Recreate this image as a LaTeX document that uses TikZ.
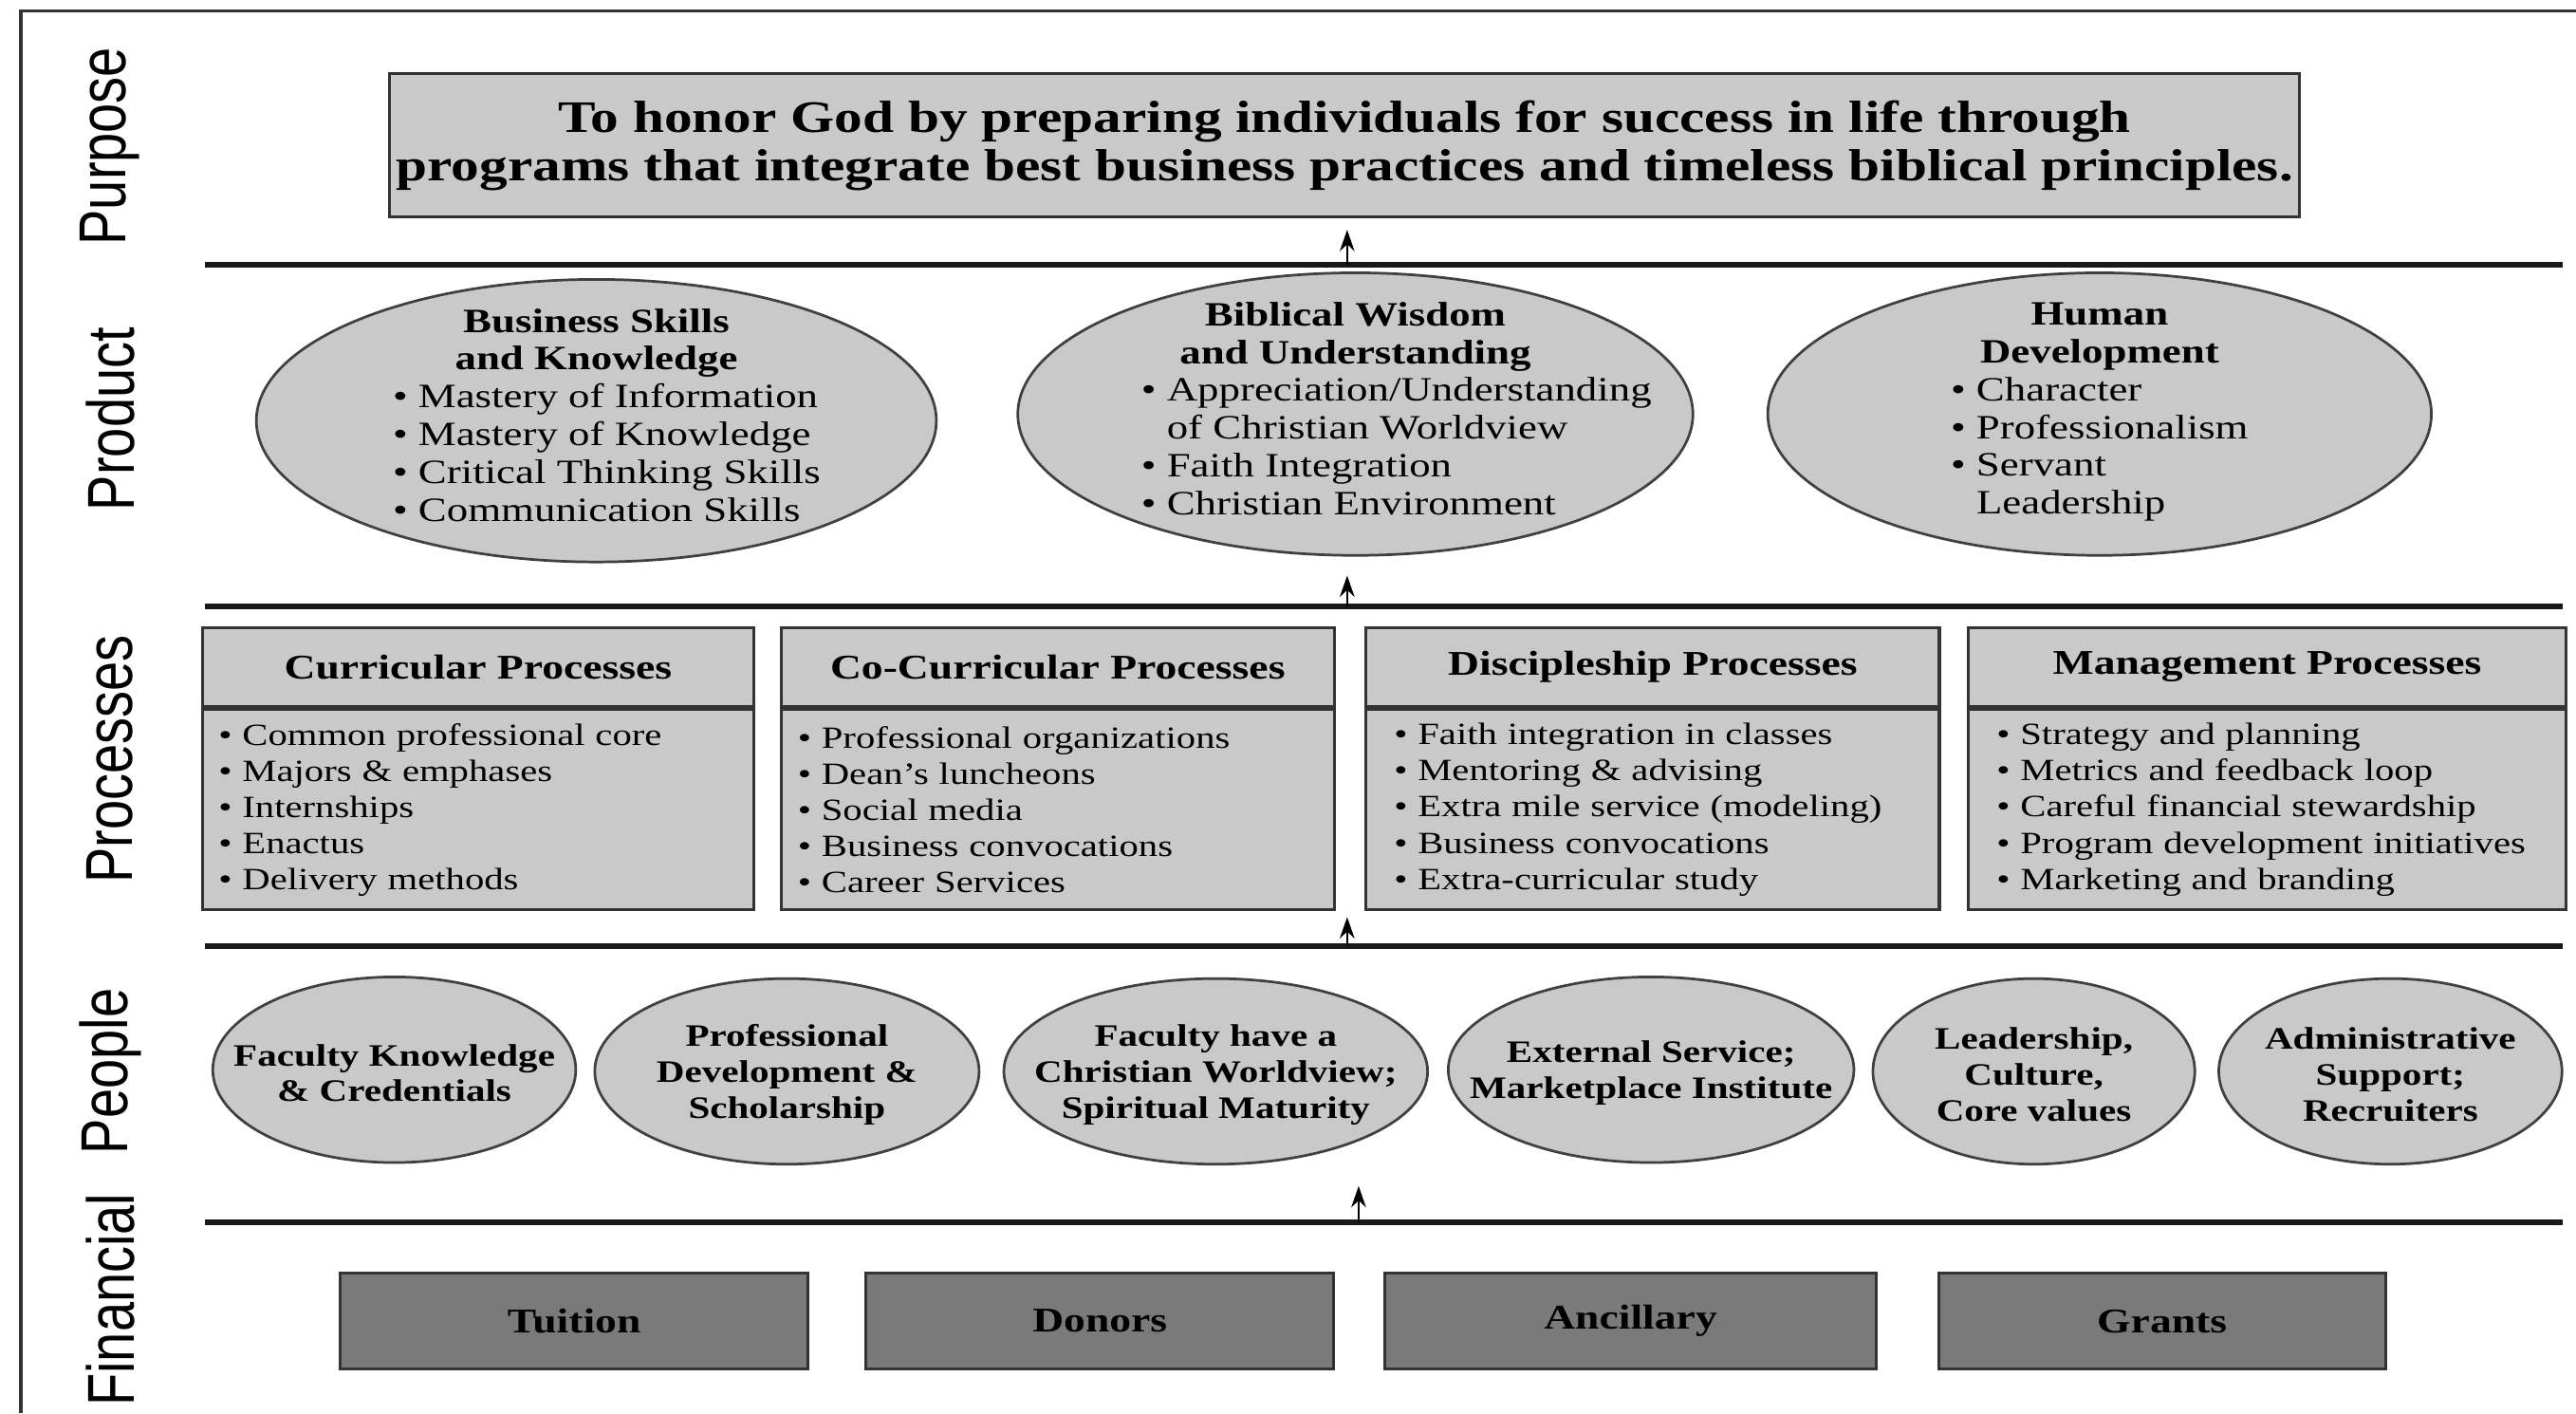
\documentclass[tikz,border=0pt]{standalone}
\usepackage{fontspec}
\usepackage{xcolor}
\usetikzlibrary{shapes.geometric,arrows.meta}
\setmainfont[FakeStretch=1.25]{Liberation Serif}
\newfontfamily\sidefont[FakeStretch=0.8]{Liberation Sans}
\definecolor{boxfill}{RGB}{201,201,201}
\definecolor{fundfill}{RGB}{122,122,122}

\begin{document}
\begin{tikzpicture}[x=0.02cm, y=-0.02cm,
    sidelabel/.style={rotate=90, font=\sidefont\fontsize{23}{23}\selectfont},
    sepline/.style={line width=2pt, black!90},
    graybox/.style={rectangle, draw=black!80, line width=1pt, fill=boxfill, inner sep=0pt},
    grayoval/.style={ellipse, draw=black!75, line width=0.9pt, fill=boxfill, inner sep=0pt},
    prodoval/.style={grayoval, minimum height=3.44cm},
    prodtext/.style={align=center, inner sep=0pt, font=\fontsize{11.8}{13.1}\selectfont},
    peopleoval/.style={grayoval, minimum height=2.26cm},
    peopletext/.style={align=center, inner sep=0pt, font=\bfseries\fontsize{10.8}{12.4}\selectfont},
    prochead/.style={graybox, minimum height=0.96cm, font=\bfseries\fontsize{12}{14}\selectfont},
    procbody/.style={graybox, anchor=north, minimum height=2.44cm, inner xsep=0.2cm, align=left, font=\fontsize{10.7}{12.5}\selectfont},
    fundbox/.style={graybox, fill=fundfill, minimum height=1.16cm, font=\bfseries\fontsize{12}{14}\selectfont},
    upar/.style={-{Stealth[length=0.26cm,width=0.18cm]}, line width=0.7pt}]
    \useasboundingbox (0,0) rectangle (1568,860);

    % Frame and layers
    \draw[line width=1pt, black!80] (12.7,860) -- (12.7,6.4) -- (1568,6.4);
    \draw[sepline] (125,161) -- (1560,161);
    \draw[sepline] (125,369) -- (1560,369);
    \draw[sepline] (125,576) -- (1560,576);
    \draw[sepline] (125,744) -- (1560,744);

    \node[sidelabel] (lpurpose) at (67,89) {Purpose};
    \node[sidelabel] (lproduct) at (67,255) {Product};
    \node[sidelabel] (lprocess) at (67,462) {Processes};
    \node[sidelabel] (lpeople) at (67,652) {People};
    \node[sidelabel] (lfinance) at (67,791) {Financial};

    % Purpose
    \node[graybox, minimum width=23.26cm, minimum height=1.74cm, align=center,
          font=\bfseries\fontsize{15.6}{16.8}\selectfont] (purpose) at (818.5,88.5)
        {To honor God by preparing individuals for success in life through\\
         programs that integrate best business practices and timeless biblical principles.};

    % Product
    \node[prodoval, minimum width=8.28cm] (skills) at (363,256) {};
    \node[prodtext] (skillst) at (skills)
        {\textbf{Business Skills}\\ \textbf{and Knowledge}\\
         \hspace*{0.25cm}\begin{tabular}[t]{@{}l@{}}
         \textbullet\ Mastery of Information\\
         \textbullet\ Mastery of Knowledge\\
         \textbullet\ Critical Thinking Skills\\
         \textbullet\ Communication Skills
         \end{tabular}};
    \node[prodoval, minimum width=8.22cm] (wisdom) at (825,252) {};
    \node[prodtext] (wisdomt) at (wisdom)
        {\textbf{Biblical Wisdom}\\ \textbf{and Understanding}\\
         \hspace*{1cm}\begin{tabular}[t]{@{}l@{}}
         \textbullet\ Appreciation/Understanding\\
         \phantom{\textbullet\ }of Christian Worldview\\
         \textbullet\ Faith Integration\\
         \textbullet\ Christian Environment
         \end{tabular}};
    \node[prodoval, minimum width=8.08cm] (human) at (1278,252) {};
    \node[prodtext] (humant) at (human)
        {\textbf{Human}\\ \textbf{Development}\\
         \begin{tabular}[t]{@{}l@{}}
         \textbullet\ Character\\
         \textbullet\ Professionalism\\
         \textbullet\ Servant\\
         \phantom{\textbullet\ }Leadership
         \end{tabular}};

    % Processes
    \node[prochead, minimum width=6.72cm] (curr) at (291,406) {Curricular Processes};
    \node[procbody, text width=6.32cm] (currb) at (curr.south)
        {\textbullet\ Common professional core\\
         \textbullet\ Majors \& emphases\\
         \textbullet\ Internships\\
         \textbullet\ Enactus\\
         \textbullet\ Delivery methods};
    \node[prochead, minimum width=6.73cm] (cocurr) at (643.8,406) {Co-Curricular Processes};
    \node[procbody, text width=6.33cm] (cocurrb) at (cocurr.south)
        {\textbullet\ Professional organizations\\
         \textbullet\ Dean's luncheons\\
         \textbullet\ Social media\\
         \textbullet\ Business convocations\\
         \textbullet\ Career Services};
    \node[prochead, minimum width=6.98cm] (discip) at (1006,406) {Discipleship Processes};
    \node[procbody, inner xsep=0.34cm, text width=6.3cm] (discipb) at (discip.south)
        {\textbullet\ Faith integration in classes\\
         \textbullet\ Mentoring \& advising\\
         \textbullet\ Extra mile service (modeling)\\
         \textbullet\ Business convocations\\
         \textbullet\ Extra-curricular study};
    \node[prochead, minimum width=7.27cm] (manage) at (1380,406) {Management Processes};
    \node[procbody, inner xsep=0.34cm, text width=6.59cm] (manageb) at (manage.south)
        {\textbullet\ Strategy and planning\\
         \textbullet\ Metrics and feedback loop\\
         \textbullet\ Careful financial stewardship\\
         \textbullet\ Program development initiatives\\
         \textbullet\ Marketing and branding};

    % People
    \node[peopleoval, minimum width=4.42cm] (faculty) at (240,651) {};
    \node[peopletext] (facultyt) at (240,653) {Faculty Knowledge\\ \& Credentials};
    \node[peopleoval, minimum width=4.68cm] (profdev) at (479,652) {};
    \node[peopletext] (profdevt) at (479,654) {Professional\\ Development \&\\ Scholarship};
    \node[peopleoval, minimum width=5.16cm] (worldview) at (740,652) {};
    \node[peopletext] (worldviewt) at (740,654) {Faculty have a\\ Christian Worldview;\\ Spiritual Maturity};
    \node[peopleoval, minimum width=4.94cm] (service) at (1005,651) {};
    \node[peopletext] (servicet) at (1005,653) {External Service;\\ Marketplace Institute};
    \node[peopleoval, minimum width=3.92cm] (culture) at (1238,652) {};
    \node[peopletext] (culturet) at (1238,654) {Leadership,\\ Culture,\\ Core values};
    \node[peopleoval, minimum width=4.18cm] (admin) at (1455,652) {};
    \node[peopletext] (admint) at (1455,654) {Administrative\\ Support;\\ Recruiters};

    % Financial
    \node[fundbox, minimum width=5.7cm] (tuition) at (349.5,804) {Tuition};
    \node[fundbox, minimum width=5.7cm] (donors) at (669.5,804) {Donors};
    \node[fundbox, minimum width=5.98cm] (ancillary) at (992.5,804) {Ancillary};
    \node[fundbox, minimum width=5.44cm] (grants) at (1316,804) {Grants};

    % Arrows
    \coordinate (s1) at (820,161);
    \coordinate (s2) at (820,369);
    \coordinate (s3) at (820,576);
    \coordinate (s4) at (827,744);
    \draw[upar, shorten >=0.14cm] (s1) -- (s1 |- purpose.south);
    \draw[upar, shorten >=0.23cm] (s2) -- (s2 |- wisdom.south);
    \draw[upar, shorten >=0.07cm] (s3) -- (s3 |- cocurrb.south);
    \draw[upar, shorten >=0.25cm] (s4) -- (s4 |- worldview.south);

\end{tikzpicture}
\end{document}
